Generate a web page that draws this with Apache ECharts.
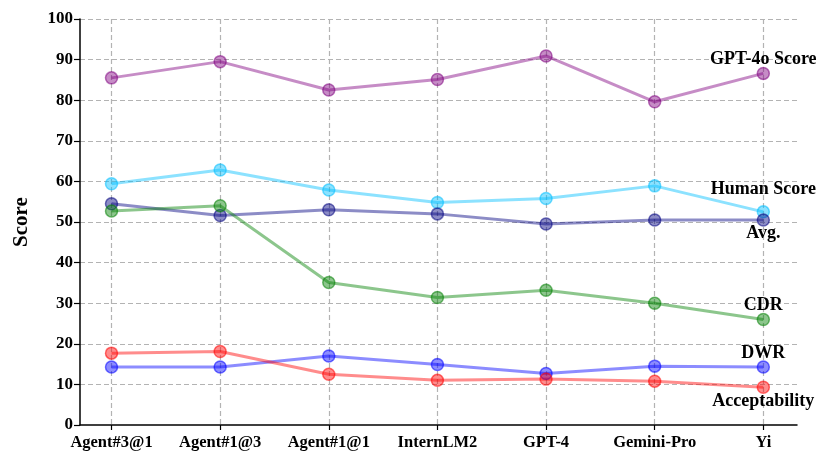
<!DOCTYPE html>
<html>
<head>
<meta charset="utf-8">
<script src="https://cdn.jsdelivr.net/npm/echarts@6/dist/echarts.min.js"></script>
<style>
  html, body { margin: 0; padding: 0; background: #fff; }
  #chart { width: 831px; height: 468px; }
</style>
</head>
<body>
<div id="chart"></div>
<script>
(function() {
  'use strict';

  // ========== Data ==========
  var models = ['Agent#3@1', 'Agent#1@3', 'Agent#1@1', 'InternLM2', 'GPT-4', 'Gemini-Pro', 'Yi'];

  var gpt4oScore = [85.5, 89.5, 82.5, 85.1, 90.9, 79.6, 86.6];
  var humanScore = [59.4, 62.8, 57.9, 54.8, 55.8, 58.9, 52.5];
  var avgScore = [54.5, 51.6, 53.0, 52.0, 49.5, 50.5, 50.5];
  var cdr = [52.7, 54.0, 35.1, 31.4, 33.2, 30.0, 26.0];
  var dwr = [14.3, 14.3, 17.0, 14.9, 12.7, 14.5, 14.3];
  var acceptability = [17.7, 18.1, 12.5, 11.0, 11.3, 10.8, 9.3];

  var yTicks = [0, 10, 20, 30, 40, 50, 60, 70, 80, 90, 100];

  var font = "'Liberation Serif', 'Times New Roman', serif";
  var grid = '#b3b3b3';

  var lines = [
    { name: 'GPT-4o Score', values: gpt4oScore, rgb: '128,0,128', dy: -14 },
    { name: 'Human Score', values: humanScore, rgb: '0,191,255', dy: -23 },
    { name: 'Avg.', values: avgScore, rgb: '0,0,128', dy: 13 },
    { name: 'CDR', values: cdr, rgb: '0,128,0', dy: -14 },
    { name: 'DWR', values: dwr, rgb: '0,0,255', dy: -14 },
    { name: 'Acceptability', values: acceptability, rgb: '255,0,0', dy: 14 }
  ];

  var idx = models.map(function(m, i) { return i; });

  var chart = echarts.init(document.getElementById('chart'), null, { renderer: 'canvas' });
  chart.setOption({
    animation: false,
    grid: { left: 80, right: 34, top: 19, bottom: 43 },
    xAxis: {
      type: 'value',
      min: -0.29,
      max: 6.31,
      axisLine: { show: true, onZero: false, lineStyle: { color: '#000', width: 1.5 } },
      axisTick: { show: true, customValues: idx, length: 5, lineStyle: { color: '#000', width: 1.2 } },
      axisLabel: {
        customValues: idx,
        margin: 9,
        color: '#000',
        fontFamily: font,
        fontWeight: 'bold',
        fontSize: 16.5,
        formatter: function(v) { return models[Math.round(v)]; }
      },
      splitLine: { show: true, lineStyle: { color: grid, type: [5, 3], width: 1.2 } }
    },
    yAxis: {
      type: 'value',
      min: 0,
      max: 100,
      interval: 10,
      name: 'Score',
      nameLocation: 'middle',
      nameRotate: 90,
      nameGap: 48,
      nameTextStyle: { color: '#000', fontFamily: font, fontWeight: 'bold', fontSize: 21 },
      axisLine: { show: true, onZero: false, lineStyle: { color: '#000', width: 1.5 } },
      axisTick: { show: true, length: 6, lineStyle: { color: '#000', width: 1.2 } },
      axisLabel: {
        margin: 7,
        color: '#000',
        fontFamily: font,
        fontWeight: 'bold',
        fontSize: 17,
        formatter: function(v) { return yTicks.indexOf(v) >= 0 ? String(v) : ''; }
      },
      splitLine: { show: true, showMinLine: false, lineStyle: { color: grid, type: [5, 3], width: 1.2 } }
    },
    series: lines.map(function(s) {
      return {
        name: s.name,
        type: 'line',
        data: s.values.map(function(v, i) { return [i, v]; }),
        symbol: 'circle',
        symbolSize: 12,
        lineStyle: { color: 'rgba(' + s.rgb + ',0.45)', width: 3 },
        itemStyle: {
          color: 'rgba(' + s.rgb + ',0.45)',
          borderColor: 'rgba(' + s.rgb + ',0.55)',
          borderWidth: 1.5
        },
        label: {
          show: true,
          position: 'inside',
          offset: [0, s.dy],
          color: '#000',
          fontFamily: font,
          fontWeight: 'bold',
          fontSize: 18,
          formatter: function(p) { return p.dataIndex === models.length - 1 ? s.name : ''; }
        }
      };
    })
  });
  window.addEventListener('resize', function() { chart.resize(); });
})();
</script>
</body>
</html>
